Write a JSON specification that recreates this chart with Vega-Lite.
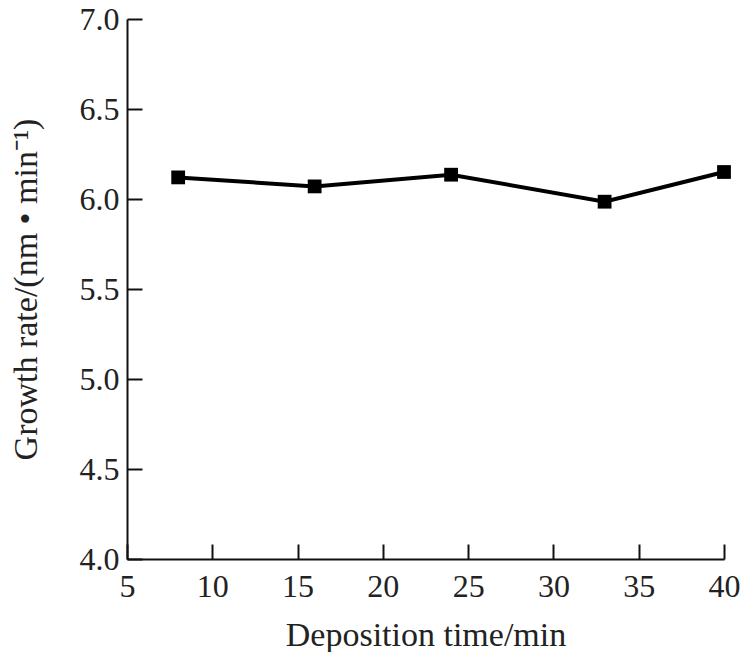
{
  "$schema": "https://vega.github.io/schema/vega-lite/v6.json",
  "autosize": "none",
  "width": 597,
  "height": 540,
  "padding": {"left": 127, "top": 19, "right": 29, "bottom": 93},
  "background": "white",
  "config": {"view": {"stroke": null}, "font": "Liberation Serif"},
  "data": {"values": [
    {"time": 8, "rate": 6.12},
    {"time": 16, "rate": 6.07},
    {"time": 24, "rate": 6.135},
    {"time": 33, "rate": 5.985},
    {"time": 40, "rate": 6.15}
  ]},
  "encoding": {
    "x": {"field": "time", "type": "quantitative",
      "scale": {"domain": [5, 40], "nice": false, "zero": false},
      "axis": {"title": "Deposition time/min", "values": [5,10,15,20,25,30,35,40], "format": "d",
        "domain": true, "domainColor": "#111", "domainWidth": 2, "labelFlush": false,
        "tickColor": "#111", "tickWidth": 2, "tickSize": -15,
        "labelFont": "Liberation Serif", "labelFontSize": 32, "labelColor": "#222", "labelPadding": 27,
        "titleFont": "Liberation Serif", "titleFontSize": 34, "titleFontWeight": "normal", "titleColor": "#222", "titlePadding": 16,
        "grid": false}},
    "y": {"field": "rate", "type": "quantitative",
      "scale": {"domain": [4, 7], "nice": false, "zero": false},
      "axis": {"title": "Growth rate/(nm • min⁻¹)", "values": [4,4.5,5,5.5,6,6.5,7], "format": ".1f",
        "domain": true, "domainColor": "#111", "domainWidth": 2, "labelFlush": false,
        "tickColor": "#111", "tickWidth": 2, "tickSize": -15,
        "labelFont": "Liberation Serif", "labelFontSize": 32, "labelColor": "#222", "labelPadding": 23,
        "titleFont": "Liberation Serif", "titleFontSize": 34, "titleFontWeight": "normal", "titleColor": "#222", "titlePadding": 36,
        "grid": false}}
  },
  "layer": [
    {"mark": {"type": "line", "color": "black", "strokeWidth": 4}},
    {"mark": {"type": "square", "color": "black", "filled": true, "opacity": 1, "size": 190}}
  ]
}
